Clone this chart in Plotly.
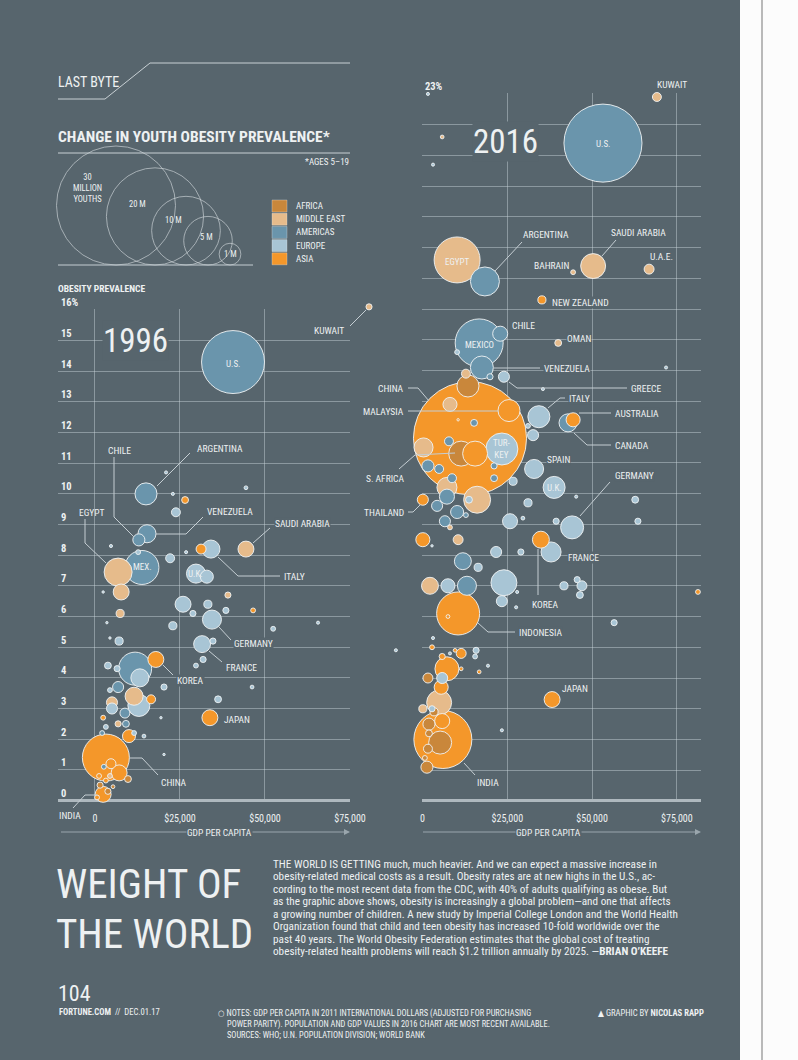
import math
import pandas as pd
import plotly.graph_objects as go

W, H = 798, 1060
BG = "#57656d"
GRID = "rgba(205,214,219,0.45)"
TXT = "#eef1f2"
LINE = "#c5ced3"
FONT = "Liberation Sans Narrow, Arial Narrow, Roboto Condensed, DejaVu Sans Condensed, sans-serif"

# ---------------- data ----------------
region_names = ["AFRICA", "MIDDLE EAST", "AMERICAS", "EUROPE", "ASIA"]
region_codes = ["AF", "ME", "AM", "EU", "AS"]
region_colors = ["#c9873b", "#e6bb8b", "#6a95ac", "#a8c5d5", "#f4972a"]

legend_values = [30, 20, 10, 5, 1]            # million obese youths
legend_labels = ["30<br>MILLION<br>YOUTHS", "20 M", "10 M", "5 M", "1 M"]

x_tickvals = [0, 25000, 50000, 75000]
x_ticktext = ["0", "$25,000", "$50,000", "$75,000"]
y1_tickvals = list(range(0, 17))
y1_ticktext = [str(v) for v in range(0, 16)] + ["16%"]
y2_tickvals = list(range(0, 24))
y2_ticktext = [""] * 23 + ["23%"]

# 1996: GDP per capita, obesity prevalence (%), obese youths (millions), region
gdp_1996 = [80600, 40600, 15000, 20900, 22900, 44400, 26500, 23800, 12900, 15300,
            4700, 44400, 31200, 34100, 22100, 26800, 12700, 6800, 13800, 7700,
            7400, 2400, 3500, 4400, 7100, 29700, 32900, 25900, 33200, 28800,
            38500, 39100, 46500, 34400, 22900, 52400, 65600, 31500, 34700, 31800,
            29700, 17900, 11800, 13200, 3800, 6500, 6800, 4400, 20300, 46200,
            36200, 11500, 12900, 16500, 5000, 5000, 8800, 9100, 6800, 2400,
            3200, 19400, 33800, 10000, 11500, 2100, 14400, 3200, 7100, 9700,
            4700, 20300, 2600, 2400, 1500, 3200, 4400, 3800, 1200, 5300,
            600, 88500]
obesity_1996 = [16.1, 14.3, 10.0, 10.7, 10.0, 10.2, 9.8, 9.4, 8.5, 8.7,
                8.3, 8.2, 8.2, 8.2, 7.9, 8.1, 8.1, 7.45, 7.6, 6.8,
                6.1, 6.8, 5.8, 5.3, 5.2, 7.4, 7.3, 6.4, 6.4, 6.1,
                6.2, 6.7, 6.2, 5.9, 5.7, 5.6, 5.8, 5.1, 5.2, 4.6,
                4.4, 4.6, 4.3, 4.0, 4.4, 4.3, 3.7, 3.6, 3.7, 3.7,
                3.3, 3.4, 3.1, 3.3, 3.2, 3.0, 2.85, 2.5, 2.5, 2.7,
                2.4, 2.7, 2.7, 2.1, 2.2, 2.2, 2.1, 1.4, 0.9, 0.7,
                1.2, 1.5, 1.1, 0.2, 0.5, 0.65, 0.8, 0.3, 0.8, 0.45,
                0.1, 4.9]
youths_1996 = [0.08, 8.4, 1.03, 0.02, 0.02, 0.03, 0.10, 0.17, 0.31, 0.69,
               0.02, 0.54, 0.21, 0.69, 0.17, 0.02, 0.05, 1.66, 2.45, 0.54,
               0.14, 0.01, 0.01, 0.01, 0.14, 0.77, 0.36, 0.54, 0.14, 0.08,
               0.08, 0.08, 0.05, 0.77, 0.14, 0.05, 0.02, 0.61, 0.08, 0.08,
               0.05, 0.54, 2.31, 0.69, 0.10, 0.08, 0.26, 0.05, 0.08, 0.03,
               0.10, 0.69, 1.03, 0.17, 0.26, 0.26, 0.21, 0.10, 0.08, 0.05,
               0.05, 0.01, 0.54, 0.36, 0.05, 0.05, 0.03, 4.68, 0.54, 0.10,
               0.21, 0.01, 0.05, 0.54, 0.08, 0.05, 0.05, 0.08, 0.05, 0.03,
               0.05, 0.02]
region_1996 = ["ME", "AM", "AM", "EU", "EU", "EU", "AS", "EU", "AM", "AM",
               "EU", "ME", "AS", "EU", "EU", "EU", "EU", "ME", "AM", "ME",
               "ME", "EU", "EU", "EU", "EU", "EU", "EU", "EU", "EU", "EU",
               "EU", "ME", "AS", "EU", "EU", "EU", "EU", "EU", "EU", "EU",
               "EU", "AS", "AM", "EU", "EU", "EU", "AM", "EU", "EU", "EU",
               "EU", "ME", "EU", "AS", "ME", "EU", "AM", "AM", "ME", "AS",
               "EU", "EU", "AS", "AS", "EU", "AM", "EU", "AS", "AS", "AF",
               "AS", "EU", "AM", "AS", "AF", "AS", "ME", "AF", "AS", "AF",
               "AS", "EU"]

# 2016
gdp_2016 = [69100, 1600, 5800, 3100, 53200, 10200, 18400, 44400, 50300, 66800,
            35200, 22900, 16700, 40000, 17500, 12800, 19900, 24000, 35500, 71800,
            10200, 13400, 14000, 8100, 25500, 34300, 44400, 42900, 31100, 32600,
            15200, 10500, 7800, 300, 11400, 15500, 23400, 1600, 4900, 21100,
            32900, 8700, 21100, 26700, 38800, 7200, 16100, 7200, 13700, 100,
            4300, 10200, 12800, 45300, 62700, 31100, 6600, 25800, 29600, 39400,
            44100, 63500, 8100, 100, 10500, 2800, 34900, 37900, 21700, 29000,
            11900, 16400, 2200, 7500, 13100, 24000, 23400, 27900, 27600, 41700,
            45600, 47000, 46400, 81200, 10500, 7500, 56500, 3100, 2800, 9600,
            8100, 11400, 15800, 15500, 5800, 7200, 11400, 19300, 16700, 1600,
            5800, 5500, 38200, 4900, 100, 3400, 5800, 1900, 6000, 5200,
            1600, 1300, 700, 1900, 23400, 2800]
obesity_2016 = [22.9, 23.0, 21.6, 20.7, 21.4, 17.6, 16.9, 17.2, 17.4, 17.3,
                16.3, 15.2, 14.9, 14.9, 14.1, 13.9, 13.8, 13.8, 13.4, 14.1,
                14.6, 13.5, 11.8, 12.9, 12.7, 12.5, 12.4, 12.3, 12.2, 11.9,
                12.3, 12.4, 11.7, 11.5, 11.3, 11.3, 11.45, 10.9, 10.8, 10.9,
                10.8, 10.5, 10.5, 10.4, 10.2, 10.2, 9.8, 9.9, 9.8, 9.8,
                9.6, 9.4, 9.3, 9.9, 9.8, 9.7, 9.1, 9.1, 9.2, 9.1,
                8.9, 9.1, 8.9, 8.5, 8.5, 8.3, 8.5, 8.1, 8.1, 8.1,
                7.8, 7.6, 7.0, 7.0, 7.0, 7.1, 6.5, 6.8, 6.3, 7.0,
                7.2, 7.0, 6.7, 6.8, 6.1, 6.0, 5.8, 5.3, 5.0, 4.9,
                4.8, 4.8, 4.9, 4.7, 4.7, 4.3, 4.3, 4.4, 4.2, 4.0,
                4.0, 3.7, 3.3, 3.2, 3.0, 2.9, 2.6, 2.5, 2.0, 1.9,
                1.7, 1.1, 1.4, 2.2, 2.3, 3.0]
youths_2016 = [0.17, 0.02, 0.03, 0.02, 12.9, 4.48, 1.78, 0.05, 1.32, 0.21,
               0.14, 0.48, 4.88, 0.10, 1.12, 0.17, 0.08, 0.26, 0.02, 0.02,
               0.05, 1.03, 27.1, 0.42, 1.03, 1.03, 0.42, 0.69, 0.05, 0.26,
               0.10, 0.01, 0.17, 0.77, 1.32, 1.32, 2.17, 0.31, 0.17, 0.08,
               0.77, 0.17, 0.10, 0.14, 1.03, 0.85, 1.54, 0.48, 0.10, 0.26,
               0.26, 0.36, 0.05, 0.02, 0.10, 0.14, 0.26, 0.48, 0.03, 0.08,
               1.12, 0.08, 0.05, 0.42, 0.21, 0.01, 0.61, 0.85, 0.26, 0.08,
               0.61, 0.14, 0.61, 0.42, 0.77, 1.43, 0.26, 0.02, 0.02, 0.14,
               0.08, 0.21, 0.10, 0.05, 3.92, 0.03, 0.08, 0.02, 0.05, 0.03,
               0.02, 0.21, 0.08, 0.05, 0.08, 1.22, 0.03, 0.02, 0.03, 0.21,
               0.26, 0.42, 0.54, 1.32, 0.14, 0.14, 0.48, 0.31, 7.13, 1.12,
               0.17, 0.31, 0.05, 0.10, 0.02, 0.08]
region_2016 = ["ME", "EU", "ME", "EU", "AM", "ME", "AM", "ME", "ME", "ME",
               "AS", "AM", "AM", "ME", "AM", "ME", "AM", "EU", "EU", "EU",
               "EU", "AF", "AS", "ME", "AS", "EU", "AS", "AM", "EU", "EU",
               "AM", "AS", "AM", "ME", "AF", "AS", "EU", "AM", "AM", "AM",
               "EU", "AM", "AM", "EU", "EU", "ME", "ME", "AM", "EU", "AS",
               "AM", "AM", "AM", "EU", "EU", "EU", "AM", "EU", "EU", "EU",
               "EU", "EU", "ME", "AS", "ME", "EU", "AS", "EU", "EU", "EU",
               "AM", "EU", "ME", "EU", "AM", "EU", "EU", "EU", "EU", "EU",
               "EU", "EU", "EU", "AS", "AS", "AS", "EU", "EU", "AS", "AS",
               "EU", "AS", "EU", "EU", "AS", "AS", "AS", "EU", "AS", "AF",
               "EU", "AS", "AS", "ME", "ME", "AF", "AS", "AF", "AS", "AF",
               "AF", "AF", "AF", "AF", "EU", "EU"]

paragraph = [
    "THE WORLD IS GETTING much, much heavier. And we can expect a massive increase in",
    "obesity-related medical costs as a result. Obesity rates are at new highs in the U.S., ac-",
    "cording to the most recent data from the CDC, with 40% of adults qualifying as obese. But",
    "as the graphic above shows, obesity is increasingly a global problem\u2014and one that affects",
    "a growing number of children. A new study by Imperial College London and the World Health",
    "Organization found that child and teen obesity has increased 10-fold worldwide over the",
    "past 40 years. The World Obesity Federation estimates that the global cost of treating",
    "obesity-related health problems will reach $1.2 trillion annually by 2025. \u2014<b>BRIAN O\u2019KEEFE</b>",
]

# ---------------- helpers ----------------
color_of = dict(zip(region_codes, region_colors))
SIZEREF = 2 * 30 / 119 ** 2   # 30 M youths -> 119 px diameter

annotations = []
shapes = []


def text(s, x, y, size=9.5, anchor="left", color=TXT, bold=False, bg=None, family=FONT, valign="middle"):
    a = dict(text=s, x=x, y=y, xref="x3", yref="y3", xanchor=anchor, yanchor=valign,
             showarrow=False, borderpad=0,
             font=dict(family=family, size=size, color=color, weight="bold" if bold else "normal"))
    if bg:
        a["bgcolor"] = bg
    annotations.append(a)


def path(points, color=LINE, width=1):
    d = "M " + " L ".join(f"{x},{y}" for x, y in points)
    shapes.append(dict(type="path", path=d, xref="x3", yref="y3",
                       line=dict(color=color, width=width), layer="above"))


def bubbles(gdp, ob, youths, reg, xa, ya):
    df = pd.DataFrame(dict(gdp=gdp, ob=ob, v=youths, reg=reg))
    df = df.sort_values("v", ascending=False, kind="stable")
    return go.Scatter(
        x=df["gdp"], y=df["ob"], xaxis=xa, yaxis=ya, mode="markers", cliponaxis=False,
        hoverinfo="skip", showlegend=False,
        marker=dict(size=df["v"], sizemode="area", sizeref=SIZEREF, sizemin=1.2,
                    color=[color_of[r] for r in df["reg"]], opacity=1,
                    line=dict(color="rgba(240,243,244,0.9)", width=1)))


fig = go.Figure()
# empty trace so that the gridded 1996 subplot (x/y) is drawn
fig.add_trace(go.Scatter(x=[], y=[], xaxis="x", yaxis="y", mode="markers",
                         hoverinfo="skip", showlegend=False))
# 1996 bubbles live on an invisible axis pair with the same scale as the gridded one,
# extended to the right/top so that the outliers (Kuwait, Qatar) stay visible
fig.add_trace(bubbles(gdp_1996, obesity_1996, youths_1996, region_1996, "x4", "y4"))
fig.add_trace(bubbles(gdp_2016, obesity_2016, youths_2016, region_2016, "x2", "y2"))

# size legend circles (bottom-aligned)
legend_cx = [116, 155, 186, 208, 230]
legend_base = 265
legend_r = [math.sqrt(v / (2 * SIZEREF)) for v in legend_values]
fig.add_trace(go.Scatter(
    x=legend_cx, y=[legend_base - r for r in legend_r], xaxis="x3", yaxis="y3",
    mode="markers", hoverinfo="skip", showlegend=False,
    marker=dict(size=legend_values, sizemode="area", sizeref=SIZEREF,
                color="rgba(0,0,0,0)", line=dict(color="rgba(220,226,229,0.85)", width=1))))
for lab, x, y in zip(legend_labels, [87, 137, 173, 206, 230], [188, 204, 220, 237, 254]):
    text(lab, x, y, size=8.5, anchor="center")
path([(58, 265), (253, 265)])

# region legend
for i, (name, col) in enumerate(zip(region_names, region_colors)):
    yc = 206 + i * 13.2
    shapes.append(dict(type="rect", x0=272, x1=287, y0=yc - 6, y1=yc + 6, xref="x3", yref="y3",
                       fillcolor=col, line=dict(color="rgba(240,240,240,0.5)", width=0.6)))
    text(name, 295, yc, size=9)

# header
text("LAST BYTE", 57, 82, size=14)
path([(58, 99), (105, 99), (150, 63), (350, 63)], color="#c9d1d5")
text("CHANGE IN YOUTH OBESITY PREVALENCE*", 57, 137, size=15.5, bold=True)
path([(58, 153), (350, 153)], color="#c9d1d5")
text("*AGES 5\u201319", 350, 162, size=9, anchor="right")
text("OBESITY PREVALENCE", 57, 288, size=9.5, bold=True)

# year titles
text("1996", 135, 340, size=33, anchor="center", bg=BG)
text("2016", 505, 141, size=33, anchor="center", bg=BG)

# ----- 1996 labels -----
text("KUWAIT", 345, 330, anchor="right")
path([(350, 326), (366, 310)])
text("U.S.", 233, 364, size=9, anchor="center")
text("ARGENTINA", 196, 448)
path([(190, 453), (157, 486)])
text("CHILE", 107, 450)
path([(114, 457), (114, 517), (134, 537)])
text("EGYPT", 78, 512)
path([(85, 519), (85, 543), (106, 563)])
text("VENEZUELA", 206, 511)
path([(203, 517), (186, 534), (156, 534)])
text("SAUDI ARABIA", 274, 523, bg=BG)
path([(270, 528), (253, 543)])
text("MEX.", 142, 567, size=9, anchor="center")
text("U.K.", 195, 574, size=9, anchor="center")
text("ITALY", 283, 576)
path([(218, 557), (238, 576), (280, 576)])
text("GERMANY", 233, 643, bg=BG)
path([(231, 640), (219, 627)])
text("FRANCE", 225, 667)
path([(222, 662), (209, 651)])
text("KOREA", 176, 680, bg=BG)
path([(173, 675), (163, 665)])
text("JAPAN", 223, 719)
text("CHINA", 160, 782)
path([(129, 758), (142, 758), (158, 775)])
text("INDIA", 58, 815)
path([(73, 808), (85, 795), (97, 795)])

# ----- 2016 labels -----
text("KUWAIT", 656, 84)
text("U.S.", 603, 144, size=9, anchor="center")
text("EGYPT", 457, 262, size=9, anchor="center")
text("ARGENTINA", 522, 234)
path([(522, 242), (495, 271)])
text("SAUDI ARABIA", 610, 232)
path([(616, 240), (602, 256)])
text("BAHRAIN", 570, 265, anchor="right")
text("U.A.E.", 649, 256)
text("NEW ZEALAND", 551, 302, bg=BG)
text("CHILE", 511, 325)
text("MEXICO", 479, 345, size=9, anchor="center")
text("OMAN", 566, 338, bg=BG)
text("VENEZUELA", 543, 368, bg=BG)
path([(494, 368), (540, 368)])
text("GREECE", 630, 388, bg=BG)
path([(509, 382), (517, 388), (627, 388)])
text("CHINA", 405, 388, anchor="right")
path([(408, 388), (418, 388), (429, 401)])
text("ITALY", 568, 398, bg=BG)
path([(548, 408), (560, 398), (565, 398)])
text("MALAYSIA", 405, 411, anchor="right")
path([(408, 411), (499, 411)])
text("AUSTRALIA", 614, 413, bg=BG)
path([(579, 413), (611, 413)])
text("CANADA", 614, 445, bg=BG)
path([(574, 433), (587, 445), (611, 445)])
text("TUR-<br>KEY", 502, 449, size=9, anchor="center")
text("SPAIN", 546, 459, bg=BG)
text("S. AFRICA", 405, 478, anchor="right")
path([(399, 469), (415, 455), (455, 453)])
text("GERMANY", 614, 475, bg=BG)
path([(610, 482), (580, 516)])
text("U.K.", 554, 488, size=9, anchor="center")
text("THAILAND", 405, 512, anchor="right")
path([(408, 512), (413, 512), (420, 505)])
text("FRANCE", 567, 557, bg=BG)
text("KOREA", 531, 604)
path([(538, 549), (538, 595)])
text("INDONESIA", 518, 632, bg=BG)
path([(478, 623), (488, 632), (515, 632)])
text("JAPAN", 561, 688)
text("INDIA", 476, 782)
path([(464, 763), (475, 775)])

# GDP axis arrows
for x0, x1, xc in [(58, 350, 219), (420, 701, 548)]:
    annotations.append(dict(text=" ", x=x1, y=832, ax=x0, ay=832, xref="x3", yref="y3",
                            axref="x3", ayref="y3", showarrow=True, arrowhead=2, arrowsize=1,
                            arrowwidth=1.2, arrowcolor="#9aa6ad", standoff=0, startstandoff=0))
    text("GDP PER CAPITA", xc, 832, size=9.5, anchor="center", bg=BG)

# bottom block
text("WEIGHT OF", 55, 884, size=41)
text("THE WORLD", 55, 934, size=41)
for i, line in enumerate(paragraph):
    text(line, 272, 864 + i * 12.5, size=11.2)
text("104", 57, 993, size=22)
text("<b>FORTUNE.COM</b>  //  DEC.01.17", 58, 1012, size=8.6)
text("\u25cb NOTES: GDP PER CAPITA IN 2011 INTERNATIONAL DOLLARS (ADJUSTED FOR PURCHASING", 217, 1013, size=8.4)
text("POWER PARITY). POPULATION AND GDP VALUES IN 2016 CHART ARE MOST RECENT AVAILABLE.", 226, 1024, size=8.4)
text("SOURCES: WHO; U.N. POPULATION DIVISION; WORLD BANK", 226, 1035, size=8.4)
text("\u25b2 GRAPHIC BY <b>NICOLAS RAPP</b>", 705, 1013, size=8.6, anchor="right")

# right page strip
shapes.append(dict(type="rect", x0=740, x1=W, y0=0, y1=H, xref="x3", yref="y3",
                   fillcolor="#fcfcfc", line=dict(width=0), layer="above"))
shapes.append(dict(type="line", x0=762, x1=762, y0=0, y1=H, xref="x3", yref="y3",
                   line=dict(color="#a3a3a3", width=1.5), layer="above"))

tickfont = dict(family=FONT, size=10, color=TXT)
common_axis = dict(showgrid=True, gridcolor=GRID, gridwidth=1, showline=False, ticks="",
                   fixedrange=True, automargin=False)
ytickfont = dict(family=FONT, size=10.5, color=TXT, weight="bold")

# 1996 scale: 25,000 $ per 85 px, 1 point per 30.66 px
X1_LEFT, X1_PX = -10880, 25000 / 85
Y1_BOTTOM, Y1_PX = -0.033, 1 / 30.66
x4_right = X1_LEFT + (410 - 58) * X1_PX
y4_top = Y1_BOTTOM + (801.5 - 290) * Y1_PX

fig.update_layout(
    width=W, height=H, margin=dict(l=0, r=0, t=0, b=0, pad=0, autoexpand=False),
    paper_bgcolor=BG, plot_bgcolor="rgba(0,0,0,0)", showlegend=False,
    xaxis=dict(domain=[58 / W, 350 / W], range=[X1_LEFT, X1_LEFT + (350 - 58) * X1_PX], anchor="y",
               tickvals=x_tickvals, ticktext=x_ticktext, zeroline=False,
               ticklabelstandoff=9, tickfont=tickfont, **common_axis),
    yaxis=dict(domain=[1 - 801.5 / H, 1 - 309 / H], range=[Y1_BOTTOM, Y1_BOTTOM + (801.5 - 309) * Y1_PX],
               anchor="x", tickvals=y1_tickvals, ticktext=y1_ticktext, ticklabelposition="inside top",
               ticklabeloverflow="allow", zeroline=True, zerolinecolor="#aeb8be", zerolinewidth=2.5,
               tickfont=ytickfont, **common_axis),
    xaxis4=dict(domain=[58 / W, 410 / W], range=[X1_LEFT, x4_right], anchor="y4",
                visible=False, fixedrange=True, automargin=False),
    yaxis4=dict(domain=[1 - 801.5 / H, 1 - 290 / H], range=[Y1_BOTTOM, y4_top], anchor="x4",
                visible=False, fixedrange=True, automargin=False),
    xaxis2=dict(domain=[422 / W, 701 / W], range=[-150, 82100], anchor="y2",
                tickvals=x_tickvals, ticktext=x_ticktext, zeroline=False,
                ticklabelstandoff=9, tickfont=tickfont, **common_axis),
    yaxis2=dict(domain=[1 - 802 / H, 1 - 93 / H], range=[-0.033, 23.03], anchor="x2",
                tickvals=y2_tickvals, ticktext=y2_ticktext, ticklabelposition="inside top",
                ticklabeloverflow="allow", zeroline=True, zerolinecolor="#aeb8be", zerolinewidth=2.5,
                tickfont=ytickfont, **common_axis),
    xaxis3=dict(domain=[0, 1], range=[0, W], anchor="y3", visible=False, fixedrange=True,
                automargin=False),
    yaxis3=dict(domain=[0, 1], range=[H, 0], anchor="x3", visible=False, fixedrange=True,
                automargin=False),
    annotations=annotations, shapes=shapes,
)

fig.write_html("out.html", config={"displayModeBar": False},
               post_script="document.body.style.margin='0';document.body.style.overflow='hidden';")
